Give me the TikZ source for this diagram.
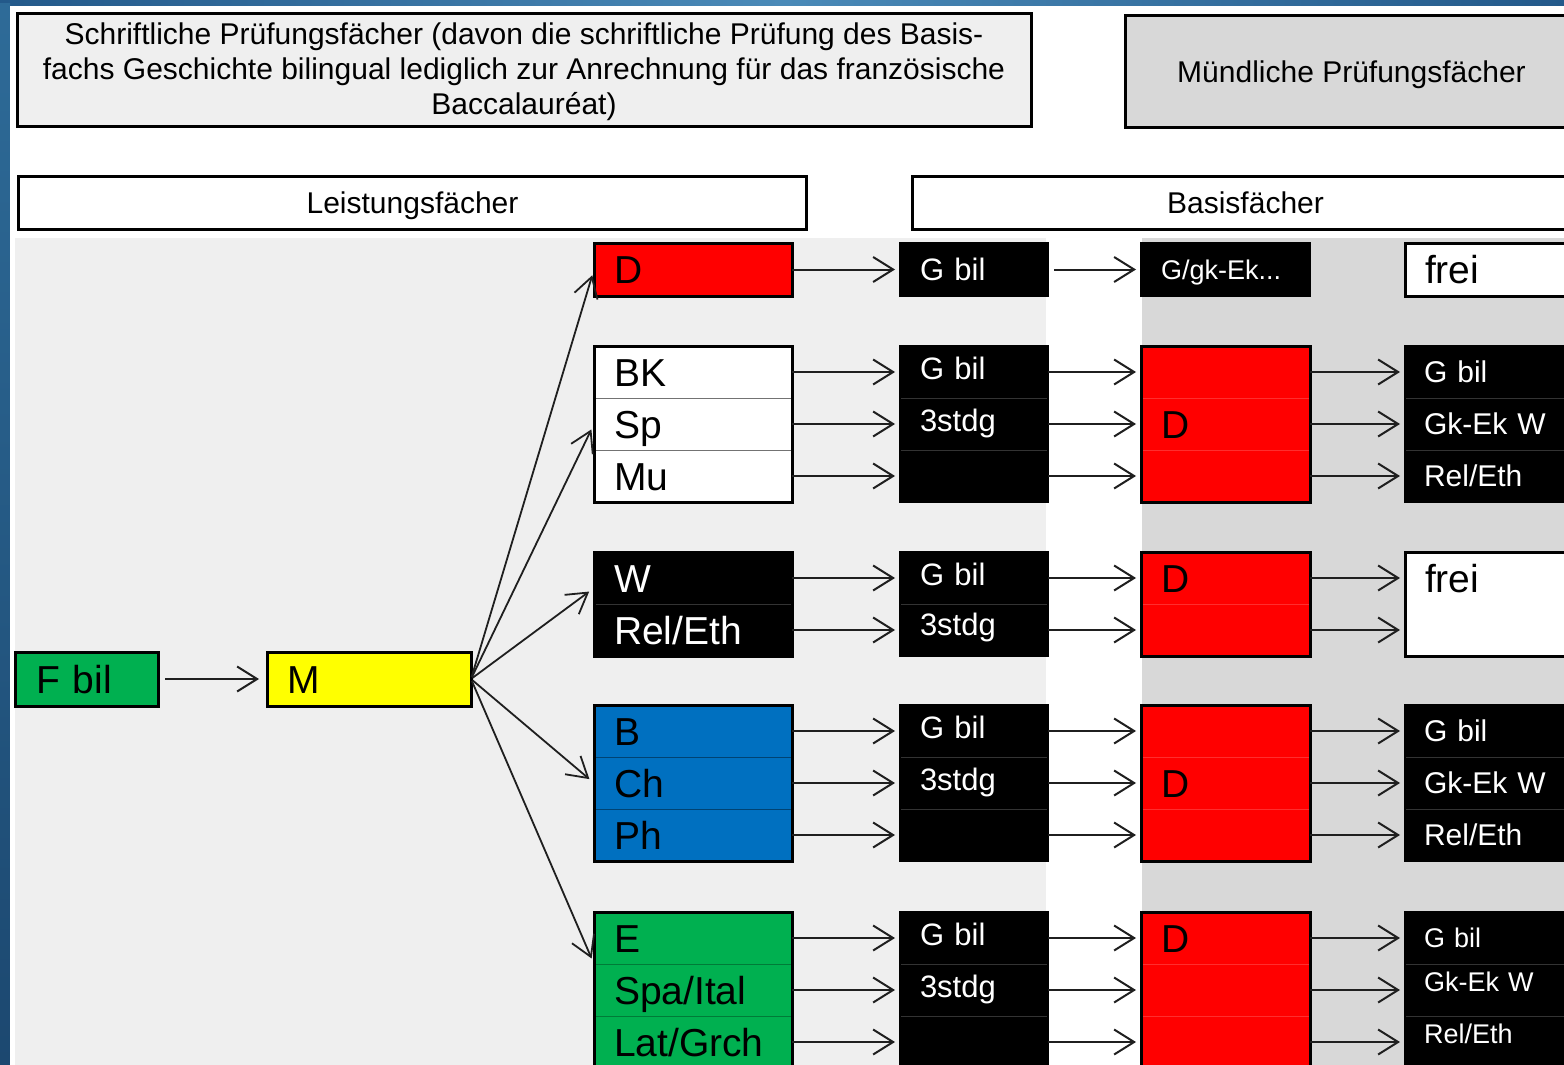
\documentclass[tikz,border=0pt]{standalone}
\usepackage{fontspec}
\setmainfont{Liberation Sans}
\usetikzlibrary{arrows.meta,fit,calc}
\definecolor{myred}{HTML}{FF0000}
\definecolor{myyellow}{HTML}{FFFF00}
\definecolor{mygreen}{HTML}{00B050}
\definecolor{myblue}{HTML}{0070C0}
\definecolor{lgray}{HTML}{EFEFEF}
\definecolor{dgray}{HTML}{D8D8D8}
\definecolor{frameA}{HTML}{23598A}
\definecolor{frameB}{HTML}{4A8AB8}
\definecolor{frameC}{HTML}{2E6B98}
\definecolor{frameD}{HTML}{1C4870}
\newcommand\fbig{\fontsize{39}{44}\selectfont}
\newcommand\fmid{\fontsize{31}{36}\selectfont}
\newcommand\frc{\fontsize{30}{35}\selectfont}
\newcommand\fsml{\fontsize{27}{32}\selectfont}
\newcommand\fhd{\fontsize{30}{35}\selectfont}
\newcommand\fhdb{\fontsize{30}{35}\selectfont}
\tikzset{
 cell/.style={rectangle, anchor=north west, inner xsep=20pt, inner ysep=0pt, align=left, minimum height=52pt, line width=1pt, outer sep=0pt},
 colA/.style={cell, text width=158pt, font=\fbig, text height=28pt, text depth=0pt},
 colB/.style={cell, text width=108pt, font=\fmid, text height=22.2pt, text depth=8pt, fill=black, text=white, draw=black!80},
 colC/.style={cell, text width=129pt, font=\fbig, text height=28pt, text depth=0pt, fill=myred, draw=myred!82!white},
 colD/.style={cell, text width=140pt, inner xsep=19pt, font=\frc, text height=21.5pt, text depth=0pt, fill=black, text=white, draw=black!80},
 grp/.style={draw=black, line width=3pt, inner sep=0pt, outer sep=0pt, fit=#1},
 blkgrp/.style={draw=black, line width=2.5pt, inner sep=0pt, outer sep=0pt, fit=#1},
 arr/.style={draw=black!88, line width=2pt, -{Straight Barb[length=20pt,width=25pt]}, shorten >=5pt},
 fan/.style={draw=black!88, line width=1.8pt, -{Straight Barb[length=20pt,width=24pt]}, shorten >=6pt, shorten <=2pt},
 hdr/.style={rectangle, anchor=north west, draw=black, line width=3pt, inner sep=0pt, align=center, text height=21.5pt, text depth=0pt},
 hdrmulti/.style={rectangle, draw=black, line width=3pt, inner sep=0pt, align=center, font=\fhd},
}
\begin{document}
\begin{tikzpicture}[x=1pt,y=-1pt]
\useasboundingbox (0,0) rectangle (1564,1065);
\clip (0,0) rectangle (1564,1065);
% frame and backgrounds
\shade[left color=frameA, right color=frameA, middle color=frameB] (0,0) rectangle (1564,1065);
\shade[top color=frameC, bottom color=frameD] (0,4) rectangle (10,1065);
\fill[white] (10,6) rectangle (1564,1065);
\fill[lgray] (15,238) rectangle (1046,1065);
\fill[dgray] (1142,238) rectangle (1564,1065);

% headers
\node[hdrmulti, fill=lgray, minimum width=1014pt, minimum height=112pt] (h1) at (524,70) {};
\node[font=\fhd, align=center, inner sep=0pt] (h1t) at (524,72)
 {Schriftliche Prüfungsfächer (davon die schriftliche Prüfung des Basis-\\fachs Geschichte bilingual lediglich zur Anrechnung für das französische\\Baccalauréat)};
\node[hdr, fill=dgray, font=\fhdb, minimum width=452pt, minimum height=112pt] (h2) at (1124,14) {Mündliche Prüfungsfächer};
\node[hdr, fill=white, font=\fhdb, minimum width=788pt, minimum height=53pt] (h3) at (17,175) {Leistungsfächer};
\node[hdr, fill=white, font=\fhdb, minimum width=666pt, minimum height=53pt] (h4) at (911,175) {Basisfächer};

% left nodes
\node[colA, text width=101pt, inner xsep=21pt, fill=mygreen, minimum height=54pt] (fbil) at (15,652) {F bil};
\node[grp={(fbil)}] (gfbil) {};
\node[colA, text width=164pt, fill=myyellow, minimum height=54pt] (m) at (267,652) {M};
\node[grp={(m)}] (gm) {};
\draw[arr, shorten <=7pt, shorten >=8pt] (fbil.east) -- (m.west);

% row 1
\node[colA, fill=myred, draw=myred, minimum height=53pt] (a1) at (594,243) {D};
\node[grp={(a1)}] (ga1) {};
\node[colB, text depth=0pt, minimum height=53pt] (b1) at (900,243) {G bil};
\node[blkgrp={(b1)}] (gb1) {};
\node[colB, text width=129pt, font=\fsml, text height=19.3pt, text depth=0pt, minimum height=53pt] (c1) at (1141,243) {G/gk-Ek...};
\node[blkgrp={(c1)}] (gc1) {};
\node[colA, text width=140pt, fill=white, draw=white, minimum height=53pt] (d1) at (1405,243) {frei};
\node[grp={(d1)}] (gd1) {};
\draw[arr] (a1.east) -- (b1.west);
\draw[arr, shorten <=6pt] (b1.east) -- (c1.west);

% row 2
\node[colA, fill=white, draw=black!55] (a2a) at (594,346) {BK};
\node[colA, fill=white, draw=black!55] (a2b) at (a2a.south west) {Sp};
\node[colA, fill=white, draw=black!55] (a2c) at (a2b.south west) {Mu};
\node[grp={(a2a)(a2c)}] (ga2) {};
\node[colB] (b2a) at (900,346) {G bil};
\node[colB] (b2b) at (b2a.south west) {3stdg};
\node[colB] (b2c) at (b2b.south west) {};
\node[blkgrp={(b2a)(b2c)}] (gb2) {};
\node[colC] (c2a) at (1141,346) {};
\node[colC] (c2b) at (c2a.south west) {D};
\node[colC] (c2c) at (c2b.south west) {};
\node[grp={(c2a)(c2c)}] (gc2) {};
\node[colD] (d2a) at (1405,346) {G bil};
\node[colD] (d2b) at (d2a.south west) {Gk-Ek W};
\node[colD] (d2c) at (d2b.south west) {Rel/Eth};
\node[blkgrp={(d2a)(d2c)}] (gd2) {};
\foreach \r in {a,b,c}{
 \draw[arr] (a2\r.east) -- (b2\r.west);
 \draw[arr] (b2\r.east) -- (c2\r.west);
 \draw[arr] (c2\r.east) -- (d2\r.west);
}

% row 3
\node[colA, fill=black, text=white, draw=black!80] (a3a) at (594,552) {W};
\node[colA, fill=black, text=white, draw=black!80] (a3b) at (a3a.south west) {Rel/Eth};
\node[grp={(a3a)(a3b)}] (ga3) {};
\node[colB] (b3a) at (900,552) {G bil};
\node[colB, text depth=12pt] (b3b) at (b3a.south west) {3stdg};
\node[blkgrp={(b3a)(b3b)}] (gb3) {};
\node[colC] (c3a) at (1141,552) {D};
\node[colC] (c3b) at (c3a.south west) {};
\node[grp={(c3a)(c3b)}] (gc3) {};
\node[colA, text width=140pt, fill=white, draw=white] (d3a) at (1405,552) {frei};
\node[colA, text width=140pt, fill=white, draw=white] (d3b) at (d3a.south west) {};
\node[grp={(d3a)(d3b)}] (gd3) {};
\foreach \r in {a,b}{
 \draw[arr] (a3\r.east) -- (b3\r.west);
 \draw[arr] (b3\r.east) -- (c3\r.west);
 \draw[arr] (c3\r.east) -- (d3\r.west);
}

% row 4
\node[colA, fill=myblue, draw=myblue!60!black] (a4a) at (594,705) {B};
\node[colA, fill=myblue, draw=myblue!60!black] (a4b) at (a4a.south west) {Ch};
\node[colA, fill=myblue, draw=myblue!60!black] (a4c) at (a4b.south west) {Ph};
\node[grp={(a4a)(a4c)}] (ga4) {};
\node[colB] (b4a) at (900,705) {G bil};
\node[colB] (b4b) at (b4a.south west) {3stdg};
\node[colB] (b4c) at (b4b.south west) {};
\node[blkgrp={(b4a)(b4c)}] (gb4) {};
\node[colC] (c4a) at (1141,705) {};
\node[colC] (c4b) at (c4a.south west) {D};
\node[colC] (c4c) at (c4b.south west) {};
\node[grp={(c4a)(c4c)}] (gc4) {};
\node[colD] (d4a) at (1405,705) {G bil};
\node[colD] (d4b) at (d4a.south west) {Gk-Ek W};
\node[colD] (d4c) at (d4b.south west) {Rel/Eth};
\node[blkgrp={(d4a)(d4c)}] (gd4) {};
\foreach \r in {a,b,c}{
 \draw[arr] (a4\r.east) -- (b4\r.west);
 \draw[arr] (b4\r.east) -- (c4\r.west);
 \draw[arr] (c4\r.east) -- (d4\r.west);
}

% row 5
\node[colA, fill=mygreen, draw=mygreen!70!black] (a5a) at (594,912) {E};
\node[colA, fill=mygreen, draw=mygreen!70!black] (a5b) at (a5a.south west) {Spa/Ital};
\node[colA, fill=mygreen, draw=mygreen!70!black] (a5c) at (a5b.south west) {Lat/Grch};
\node[grp={(a5a)(a5c)}] (ga5) {};
\node[colB] (b5a) at (900,912) {G bil};
\node[colB] (b5b) at (b5a.south west) {3stdg};
\node[colB] (b5c) at (b5b.south west) {};
\node[blkgrp={(b5a)(b5c)}] (gb5) {};
\node[colC] (c5a) at (1141,912) {D};
\node[colC] (c5b) at (c5a.south west) {};
\node[colC] (c5c) at (c5b.south west) {};
\node[grp={(c5a)(c5c)}] (gc5) {};
\node[colD, font=\fsml, text height=19.3pt] (d5a) at (1405,912) {G bil};
\node[colD, font=\fsml, text height=19.3pt, text depth=16pt] (d5b) at (d5a.south west) {Gk-Ek W};
\node[colD, font=\fsml, text height=19.3pt, text depth=16pt] (d5c) at (d5b.south west) {Rel/Eth};
\node[blkgrp={(d5a)(d5c)}] (gd5) {};
\foreach \r in {a,b,c}{
 \draw[arr] (a5\r.east) -- (b5\r.west);
 \draw[arr] (b5\r.east) -- (c5\r.west);
 \draw[arr] (c5\r.east) -- (d5\r.west);
}

% fan from M
\draw[fan] (m.east) -- (a1.west);
\draw[fan] (m.east) -- (a2b.west);
\draw[fan] (m.east) -- ([yshift=-10pt]a3a.west);
\draw[fan] (m.east) -- (a4b.west);
\draw[fan] (m.east) -- (a5a.south west);
\end{tikzpicture}
\end{document}
